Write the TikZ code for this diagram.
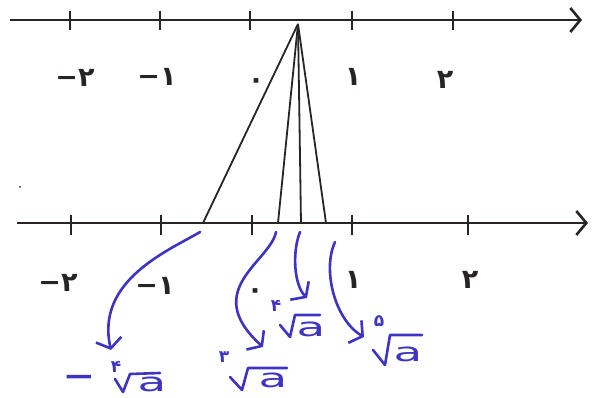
\documentclass[tikz,border=0pt]{standalone}
\usepackage{graphicx}
\usepackage{fontspec}
\newfontfamily\pf{DejaVu Sans}
\usetikzlibrary{arrows.meta}
\definecolor{ink}{RGB}{40,36,36}
\definecolor{penblue}{RGB}{62,52,196}
\tikzset{
  axisline/.style={draw=ink, line width=2.6pt, -{Straight Barb[length=10pt,width=24pt,line width=2.6pt]}},
  tickmark/.style={draw=ink, line width=2.6pt},
  ray/.style={draw=ink, line width=1.8pt},
  pen/.style={draw=penblue, line width=2.6pt, line cap=round, -{Straight Barb[length=9pt,width=26pt,line width=2.6pt]}},
  rad/.style={draw=penblue, line width=2.6pt, line cap=round, line join=round},
  digit/.style={text=ink, inner sep=0pt, font=\pf\bfseries\fontsize{27}{27}\selectfont},
  idx/.style={text=penblue, inner sep=0pt, font=\pf\bfseries\fontsize{17}{17}\selectfont},
  radicand/.style={text=penblue, inner sep=0pt, font=\pf\fontsize{26}{26}\selectfont},
  bluelabel/.style={text=penblue, inner sep=0pt, font=\pf\bfseries\fontsize{30}{30}\selectfont},
}
\newcommand\wide[1]{\scalebox{1.8}[1]{#1}}
\begin{document}
\begin{tikzpicture}[x=1pt,y=-1pt]
\useasboundingbox (0,0) rectangle (592,398);
% number lines
\coordinate (TL) at (10,20);
\coordinate (TR) at (582,20);
\coordinate (BL) at (17,223);
\coordinate (BR) at (588,223);
\draw[axisline] (TL) -- (TR);
\draw[axisline] (BL) -- (BR);
% ticks
\foreach \n/\x in {a/70,b/160,c/250,d/352,e/453} {
  \coordinate (tt\n) at (\x,11);
  \coordinate (tb\n) at (\x,30);
  \draw[tickmark] (tt\n) -- (tb\n);
}
\foreach \n/\x in {a/71,b/161,c/252,d/352,e/468} {
  \coordinate (bt\n) at (\x,215);
  \coordinate (bb\n) at (\x,235);
  \draw[tickmark] (bt\n) -- (bb\n);
}
% top labels
\node[digit] (tm2) at (75,78) {−۲};
\node[digit] (tm1) at (157,77) {−۱};
\node[digit] (t0) at (256,84) {۰};
\node[digit] (t1) at (353,77) {۱};
\node[digit] (t2) at (445,80) {۲};
% bottom labels
\node[digit] (bm2) at (58,283) {−۲};
\node[digit] (bm1) at (155,286) {−۱};
\node[digit] (b0) at (255,294) {۰};
\node[digit] (b1) at (353,280) {۱};
\node[digit] (b2) at (470,280) {۲};
% stray dot
\fill[ink] (20,187) circle (1pt);
% rays
\coordinate (P) at (298,24);
\coordinate (Q1) at (203,223);
\coordinate (Q2) at (278,223);
\coordinate (Q3) at (301,223);
\coordinate (Q4) at (326,223);
\foreach \q in {Q1,Q2,Q3,Q4} \draw[ray] (P) -- (\q);
% blue labels: minus
\node[bluelabel] (neg) at (79,381) {\scalebox{1.3}[1]{−}};
% root 1 (index 4)
\node[idx] (i1) at (116,367) {۴};
\node[radicand] (a1) at (152,384) {\wide{a}};
\coordinate (r1a) at (115,379); \coordinate (r1b) at (123,392);
\coordinate (r1c) at (130,374); \coordinate (r1d) at (160,373);
\draw[rad] (r1a) -- (r1b) -- (r1c) -- (r1d);
% root 2 (index 3)
\node[idx] (i2) at (224,357) {۳};
\node[radicand] (a2) at (273,380) {\wide{a}};
\coordinate (r2a) at (230,377); \coordinate (r2b) at (242,390);
\coordinate (r2c) at (248,368); \coordinate (r2d) at (287,368);
\draw[rad] (r2a) -- (r2b) -- (r2c) -- (r2d);
% root 3 (index 4)
\node[idx] (i3) at (276,306) {۴};
\node[radicand] (a3) at (311,329) {\wide{a}};
\coordinate (r3a) at (280,325); \coordinate (r3b) at (290,337);
\coordinate (r3c) at (295,315); \coordinate (r3d) at (320,315);
\draw[rad] (r3a) -- (r3b) -- (r3c) -- (r3d);
% root 4 (index 5)
\node[idx] (i4) at (379,321) {۵};
\node[radicand] (a4) at (408,354) {\wide{a}};
\coordinate (r4a) at (373,350); \coordinate (r4b) at (385,365);
\coordinate (r4c) at (390,335); \coordinate (r4d) at (422,335);
\draw[rad] (r4a) -- (r4b) -- (r4c) -- (r4d);
% blue arrows
\coordinate (S1) at (200,232); \coordinate (E1) at (111,350);
\coordinate (S2) at (276,232); \coordinate (E2) at (263,347);
\coordinate (S3) at (300,232); \coordinate (E3) at (307,298);
\coordinate (S4) at (335,242); \coordinate (E4) at (364,337);
\draw[pen] (S1) .. controls (170,250) and (95,280) .. (E1);
\draw[pen] (S2) .. controls (270,262) and (200,290) .. (E2);
\draw[pen] (S3) .. controls (292,252) and (294,285) .. (E3);
\draw[pen] (S4) .. controls (322,270) and (335,320) .. (E4);
\end{tikzpicture}
\end{document}
